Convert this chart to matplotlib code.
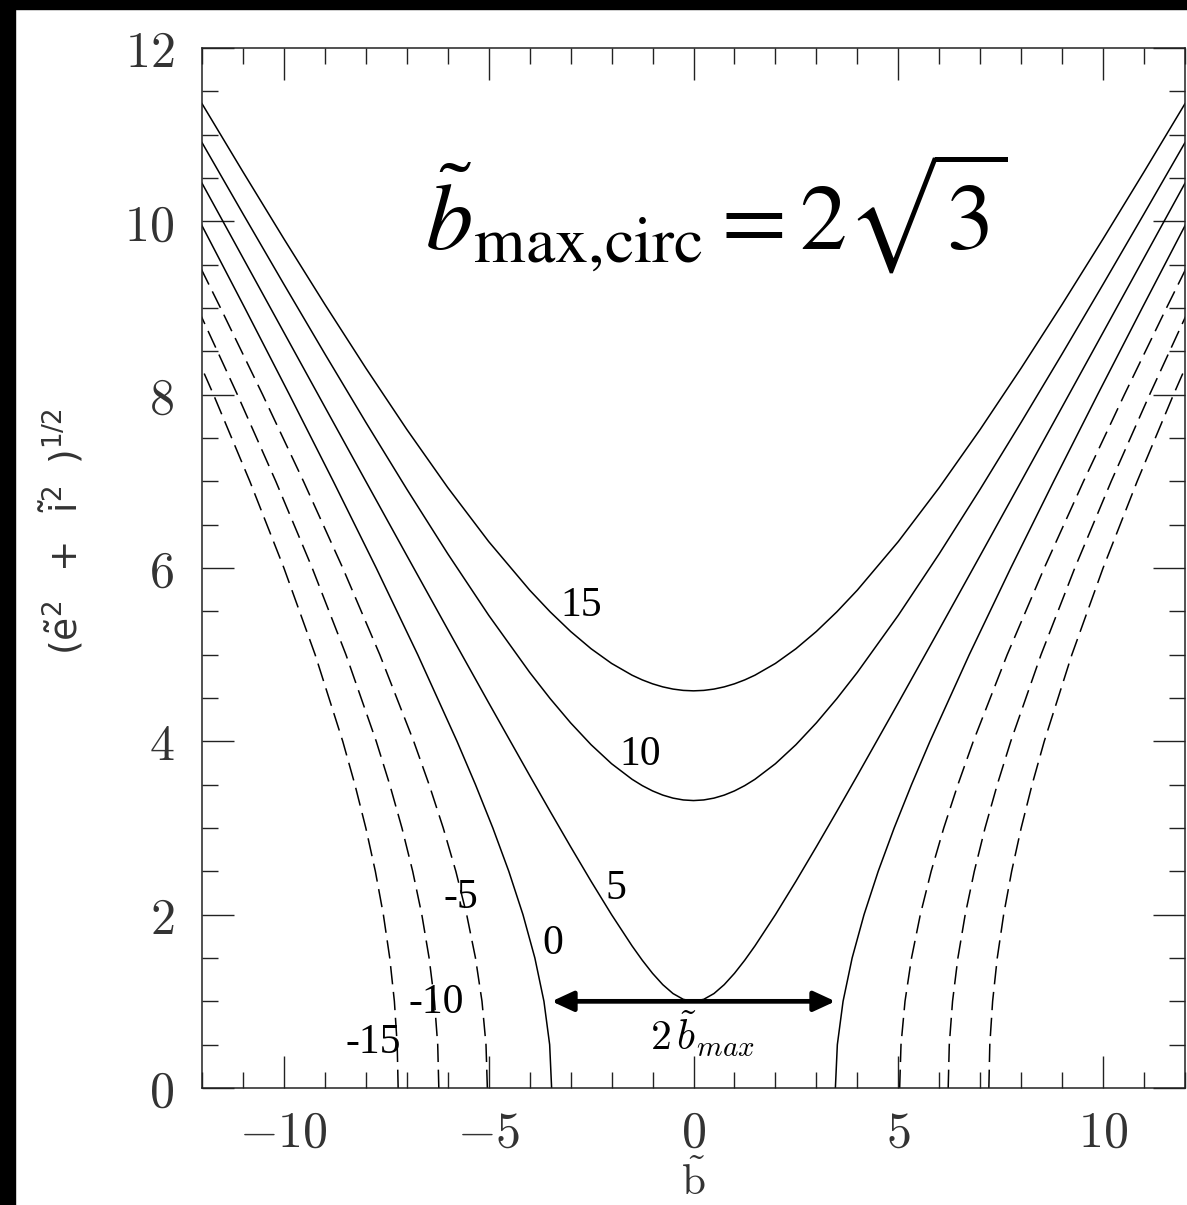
#!/usr/bin/env python3
"""
Jacobi-energy contours in Hill's approximation: (e~^2 + i~^2)^1/2 against the
scaled impact parameter b~, one curve per energy level.

Writes out.png
"""

import matplotlib
matplotlib.use("Agg")
import matplotlib.pyplot as plt
from matplotlib.patches import Rectangle
from matplotlib.ticker import MultipleLocator

plt.rcParams["mathtext.fontset"] = "cm"

# ---------- curve samples (right-hand branch, mirrored for b < 0) ----------
# Positive energies: y read on a grid of b, minimum at b = 0.
B_GRID = [0, 0.25, 0.5, 0.75, 1, 1.25, 1.5, 2, 2.5, 3, 3.5, 4,
          5, 6, 7, 8, 9, 10, 11, 12]
Y_E5 = [1.000, 1.0232, 1.0897, 1.1924, 1.3229, 1.4737, 1.6394, 2.0000,
        2.3848, 2.7839, 3.1918, 3.6056, 4.4441, 5.2915, 6.1441, 7.0000,
        7.8581, 8.7178, 9.5786, 10.4403]
Y_E10 = [3.3166, 3.3237, 3.3448, 3.3796, 3.4278, 3.4888, 3.5620, 3.7417,
         3.9608, 4.2131, 4.4931, 4.7958, 5.4544, 6.1644, 6.9101, 7.6811,
         8.4705, 9.2736, 10.0871, 10.9087]
Y_E15 = [4.5826, 4.5877, 4.6030, 4.6284, 4.6637, 4.7087, 4.7631, 4.8990,
         5.0683, 5.2678, 5.4943, 5.7446, 6.3048, 6.9282, 7.5993, 8.3066,
         9.0416, 9.7980, 10.5712, 11.3578]

# Zero and negative energies: b read on a grid of y, curves meet y = 0.
Y_GRID = [0, 0.5, 1, 1.5, 2, 2.5, 3, 3.5, 4, 5, 6, 7, 8, 9, 10]
B_E0 = [3.4641, 3.5119, 3.6515, 3.8730, 4.1633, 4.5092, 4.8990, 5.3229,
        5.7735, 6.7330, 7.7460, 8.7939, 9.8658, 10.9545, 12.0554]
B_EM5 = [5.0332, 5.0662, 5.1640, 5.3229, 5.5377, 5.8023, 6.1101, 6.4550,
         6.8313, 7.6594, 8.5635, 9.5219, 10.5198, 11.5470, 12.5963]
B_EM10 = [6.2183, 6.2450, 6.3246, 6.4550, 6.6332, 6.8557, 7.1181, 7.4162,
          7.7460, 8.4853, 9.3095, 10.1980, 11.1355, 12.1106, 13.0639]
B_EM15 = [7.2111, 7.2342, 7.3030, 7.4162, 7.5719, 7.7675, 8.0000, 8.2664,
          8.5635, 9.2376, 10.0000, 10.8321, 11.7189, 12.6491, 13.6137]

# energy level labels and where they sit (b, y)
LEVEL_TEXT = ["15", "10", "5", "0", "-5", "-10", "-15"]
LEVEL_POS = [(-2.74, 5.57), (-1.31, 3.84), (-1.9, 2.3), (-3.43, 1.67),
             (-5.67, 2.19), (-6.28, 0.98), (-7.81, 0.52)]

B_MAX_CIRC = 3.4641   # 2*sqrt(3)

X_TICKS = [-10, -5, 0, 5, 10]
X_TICKLABELS = [r"$-10$", r"$-5$", r"$0$", r"$5$", r"$10$"]
Y_TICKS = [0, 2, 4, 6, 8, 10, 12]
Y_TICKLABELS = [r"$0$", r"$2$", r"$4$", r"$6$", r"$8$", r"$10$", r"$12$"]

W, H = 1187, 1205
LW = 1.1
DASH = (0, (12, 5))
INK = "#222222"


def draw_bowl(ax, b, y):
    bb = [-v for v in b[::-1]] + list(b[1:])
    yy = list(y[::-1]) + list(y[1:])
    ax.plot(bb, yy, color="k", lw=LW)


def draw_pair(ax, b, y, ls):
    for sign in (-1, 1):
        ax.plot([sign * v for v in b], y, color="k", lw=LW, linestyle=ls)


def main():
    fig = plt.figure(figsize=(W / 100, H / 100), dpi=100, facecolor="white")
    ax = fig.add_axes([202 / W, 1 - 1088 / H, (1185 - 202) / W, (1088 - 48) / H])

    # black border strips of the page
    fig.patches.append(Rectangle((0, 0), 15 / W, 1, transform=fig.transFigure,
                                 color="k", zorder=-1))
    fig.patches.append(Rectangle((0, 1 - 9 / H), 1, 9 / H, transform=fig.transFigure,
                                 color="k", zorder=-1))

    for y in (Y_E15, Y_E10, Y_E5):
        draw_bowl(ax, B_GRID, y)
    draw_pair(ax, B_E0, Y_GRID, "-")
    for b in (B_EM5, B_EM10, B_EM15):
        draw_pair(ax, b, Y_GRID, DASH)

    for txt, (x, y) in zip(LEVEL_TEXT, LEVEL_POS):
        ax.text(x, y, txt, fontsize=30, family="Liberation Serif",
                ha="center", va="center")

    # full width of the non-crossing zone
    ax.annotate("", xy=(B_MAX_CIRC, 1.0), xytext=(-B_MAX_CIRC, 1.0),
                arrowprops=dict(arrowstyle="<|-|>,head_length=0.65,head_width=0.3",
                                lw=3.4, color="k", mutation_scale=20,
                                shrinkA=0, shrinkB=0))
    ax.text(-1.07, 0.44, r"$2\,\tilde{b}_{max}$", fontsize=30,
            ha="left", va="baseline")

    ax.text(-6.55, 9.67, r"$\tilde{b}_{\rm max{,}circ} = 2\sqrt{3}$", fontsize=68,
            math_fontfamily="stix", ha="left", va="baseline")

    ax.set_xlim(-12, 12)
    ax.set_ylim(0, 12)
    ax.set_xticks(X_TICKS)
    ax.set_xticklabels(X_TICKLABELS, fontsize=36, color="#333333")
    ax.set_yticks(Y_TICKS)
    ax.set_yticklabels(Y_TICKLABELS, fontsize=36, color="#333333")
    ax.xaxis.set_minor_locator(MultipleLocator(1))
    ax.yaxis.set_minor_locator(MultipleLocator(0.5))
    ax.tick_params(which="both", direction="in", top=True, right=True,
                   color=INK, width=1.0)
    ax.tick_params(which="major", length=23)
    ax.tick_params(which="minor", length=11.5)
    ax.tick_params(axis="x", which="major", pad=15)
    ax.tick_params(axis="y", which="major", pad=20)
    for sp in ax.spines.values():
        sp.set_linewidth(1.1)
        sp.set_color(INK)

    fig.text(693.7 / W, 1 / H, r"$\tilde{\mathrm{b}}$", fontsize=31,
             ha="center", va="bottom", color="#333333")
    fig.text(62 / W, 1 - 532 / H,
             r"$(\tilde{\mathrm{e}}^2\;\;+\;\;\tilde{\mathrm{i}}^2\;\;)^{1/2}$",
             fontsize=27, math_fontfamily="dejavusans", rotation=90,
             ha="center", va="center", color="#333333")

    fig.savefig("out.png", dpi=100, facecolor="white")
    plt.close(fig)


if __name__ == "__main__":
    main()
